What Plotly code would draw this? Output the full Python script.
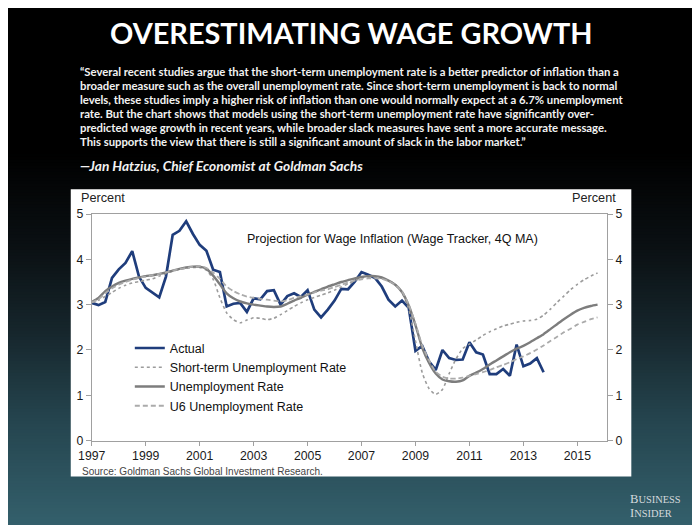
import plotly.graph_objects as go

# ---------------- data ----------------
quarters = [1997 + 0.25 * i for i in range(76)]  # 1997Q1 .. 2015Q4

actual = [3.04, 2.99, 3.06, 3.59,
          3.78, 3.92, 4.18, 3.62,
          3.37, 3.26, 3.16, 3.62,
          4.54, 4.63, 4.84, 4.56,
          4.32, 4.19, 3.77, 3.72,
          2.96, 3.02, 3.04, 2.84,
          3.14, 3.12, 3.30, 3.32,
          3.00, 3.19, 3.25, 3.17,
          3.32, 2.89, 2.72, 2.89,
          3.09, 3.35, 3.34, 3.51,
          3.72, 3.66, 3.59, 3.40,
          3.11, 2.96, 3.09, 2.93,
          1.98, 2.09, 1.75, 1.56,
          2.00, 1.82, 1.78, 1.79,
          2.17, 1.95, 1.90, 1.47,
          1.47, 1.58, 1.43, 2.12,
          1.64, 1.70, 1.82, 1.51]

short_term = [3.05, 3.10, 3.18, 3.27,
              3.36, 3.43, 3.48, 3.51,
              3.54, 3.57, 3.63, 3.69,
              3.74, 3.78, 3.81, 3.82,
              3.82, 3.76, 3.56, 3.15,
              2.82, 2.67, 2.60, 2.66,
              2.71, 2.70, 2.67, 2.70,
              2.78, 2.87, 2.96, 3.04,
              3.11, 3.16, 3.21, 3.26,
              3.32, 3.39, 3.46, 3.53,
              3.59, 3.60, 3.60, 3.58,
              3.53, 3.45, 3.27, 2.90,
              2.20, 1.50, 1.15, 1.02,
              1.13, 1.48, 1.80, 2.03,
              2.13, 2.22, 2.32, 2.40,
              2.47, 2.53, 2.57, 2.61,
              2.64, 2.65, 2.68, 2.77,
              2.90, 3.05, 3.19, 3.33,
              3.45, 3.55, 3.63, 3.70]

unemployment = [3.06, 3.15, 3.30, 3.40,
                3.48, 3.53, 3.57, 3.60,
                3.63, 3.65, 3.68, 3.71,
                3.75, 3.79, 3.82, 3.84,
                3.84, 3.79, 3.64, 3.45,
                3.25, 3.14, 3.07, 3.03,
                3.00, 2.98, 2.96, 2.95,
                2.96, 3.02, 3.09, 3.15,
                3.22, 3.28, 3.34, 3.40,
                3.45, 3.50, 3.54, 3.58,
                3.61, 3.63, 3.63, 3.60,
                3.53, 3.44, 3.28, 2.98,
                2.55, 2.05, 1.72, 1.48,
                1.35, 1.31, 1.30, 1.33,
                1.43, 1.50, 1.58, 1.68,
                1.77, 1.86, 1.95, 2.03,
                2.09, 2.17, 2.26, 2.35,
                2.46, 2.57, 2.68, 2.78,
                2.87, 2.93, 2.97, 3.00]

u6 = [3.05, 3.12, 3.25, 3.36,
      3.44, 3.50, 3.55, 3.59,
      3.62, 3.65, 3.68, 3.71,
      3.75, 3.78, 3.81, 3.84,
      3.85, 3.81, 3.71, 3.57,
      3.40, 3.30, 3.23, 3.18,
      3.15, 3.13, 3.11, 3.09,
      3.07, 3.10, 3.15, 3.19,
      3.22, 3.27, 3.31, 3.34,
      3.39, 3.44, 3.49, 3.53,
      3.56, 3.58, 3.58, 3.57,
      3.52, 3.44, 3.29, 3.00,
      2.58, 2.10, 1.78, 1.52,
      1.41, 1.37, 1.37, 1.39,
      1.43, 1.47, 1.51, 1.56,
      1.62, 1.67, 1.73, 1.80,
      1.86, 1.93, 2.01, 2.10,
      2.20, 2.29, 2.39, 2.47,
      2.56, 2.62, 2.68, 2.72]

x_ticks = [1997, 1999, 2001, 2003, 2005, 2007, 2009, 2011, 2013, 2015]
y_ticks = [0, 1, 2, 3, 4, 5]

quote_lines = [
    "\u201cSeveral recent studies argue that the short-term unemployment rate is a better predictor of inflation than a",
    "broader measure such as the overall unemployment rate. Since short-term unemployment is back to normal",
    "levels, these studies imply a higher risk of inflation than one would normally expect at a 6.7% unemployment",
    "rate. But the chart shows that models using the short-term unemployment rate have significantly over-",
    "predicted wage growth in recent years, while broader slack measures have sent a more accurate message.",
    "This supports the view that there is still a significant amount of slack in the labor market.\u201d",
]

# ---------------- geometry helpers (target picture pixels -> paper fraction) ----------------
FIG_W, FIG_H = 700, 530
OX, OY = 21.3, 13.8     # where the figure's corner lands in the photographed picture
KX, KY = 0.979, 0.973   # observed photo scale
KF = 0.976              # font scale


def px(x):
    return (x - OX) / KX / FIG_W


def py(y):
    return 1 - (y - OY) / KY / FIG_H


def fs(s):
    return s / KF


SANS = "Liberation Sans, Arial, sans-serif"
TITLE_FONT = "Lato, Open Sans, sans-serif"

fig = go.Figure()

fig.add_trace(go.Scatter(x=quarters[:len(actual)], y=actual, mode="lines", name="Actual",
                         line=dict(color="#1f3d7c", width=2.7)))
fig.add_trace(go.Scatter(x=quarters, y=short_term, mode="lines", name="Short-term Unemployment Rate",
                         line=dict(color="#9c9c9c", width=1.6, dash="dot", shape="spline", smoothing=0.6)))
fig.add_trace(go.Scatter(x=quarters, y=unemployment, mode="lines", name="Unemployment Rate",
                         line=dict(color="#7d7d7d", width=2.4, shape="spline", smoothing=0.6)))
fig.add_trace(go.Scatter(x=quarters, y=u6, mode="lines", name="U6 Unemployment Rate",
                         line=dict(color="#ababab", width=1.8, dash="5px,3px", shape="spline", smoothing=0.6)))
# invisible trace so the right-hand axis is drawn
fig.add_trace(go.Scatter(x=quarters[:len(actual)], y=actual, yaxis="y2", mode="lines",
                         line=dict(width=0, color="rgba(0,0,0,0)"), showlegend=False, hoverinfo="skip"))

# ---------------- background ----------------
shapes = []
stops = [(0, (0, 0, 0)), (150, (0, 0, 0)), (250, (11, 17, 20)), (330, (22, 38, 44)),
         (420, (37, 69, 79)), (525, (52, 96, 108))]


def col_at(y):
    for (y0, c0), (y1, c1) in zip(stops[:-1], stops[1:]):
        if y0 <= y <= y1:
            t = (y - y0) / (y1 - y0) if y1 > y0 else 0
            return tuple(int(round(a + (b - a) * t)) for a, b in zip(c0, c1))
    return stops[-1][1]


# black backdrop reaching past the figure edges
shapes.append(dict(type="rect", xref="paper", yref="paper", x0=-0.2, x1=1.2, y0=py(150), y1=1.2,
                   fillcolor="#000000", line=dict(width=0), layer="below"))
yb = 140
while yb < 525:
    c = col_at(yb + 1.5)
    bottom = py(yb + 3.6) if yb + 3 < 525 else -0.2
    shapes.append(dict(type="rect", xref="paper", yref="paper", x0=-0.2, x1=1.2,
                       y0=bottom, y1=py(yb),
                       fillcolor="rgb(%d,%d,%d)" % c, line=dict(width=0), layer="below"))
    yb += 3
# white chart panel
shapes.append(dict(type="rect", xref="paper", yref="paper", x0=px(70), x1=px(630),
                   y0=py(475), y1=py(188), fillcolor="#ffffff", line=dict(width=0), layer="below"))

# ---------------- annotations ----------------
ann = []
ann.append(dict(text="<b>OVERESTIMATING WAGE GROWTH</b>", x=px(350), y=py(31), xref="paper", yref="paper",
                showarrow=False, xanchor="center", yanchor="middle",
                font=dict(family=TITLE_FONT, size=fs(28.2), color="#ffffff")))
line_y = [70, 84, 98, 112, 126, 140]
for t, yy in zip(quote_lines, line_y):
    ann.append(dict(text="<b>" + t + "</b>", x=px(77), y=py(yy), xref="paper", yref="paper",
                    showarrow=False, xanchor="left", yanchor="middle",
                    font=dict(family=TITLE_FONT, size=fs(11.05), color="#f2f2f2")))
ann.append(dict(text="<b><i>\u2014Jan Hatzius, Chief Economist at Goldman Sachs</i></b>", x=px(77), y=py(164.5),
                xref="paper", yref="paper", showarrow=False, xanchor="left", yanchor="middle",
                font=dict(family=TITLE_FONT, size=fs(13.4), color="#f2f2f2")))
ann.append(dict(text="Projection for Wage Inflation (Wage Tracker, 4Q MA)", x=px(391), y=py(238),
                xref="paper", yref="paper", showarrow=False, xanchor="center", yanchor="middle",
                font=dict(family=SANS, size=fs(12.2), color="#111111")))
ann.append(dict(text="Percent", x=px(78), y=py(197), xref="paper", yref="paper", showarrow=False,
                xanchor="left", yanchor="middle", font=dict(family=SANS, size=fs(12.4), color="#222222")))
ann.append(dict(text="Percent", x=px(617), y=py(197), xref="paper", yref="paper", showarrow=False,
                xanchor="right", yanchor="middle", font=dict(family=SANS, size=fs(12.4), color="#222222")))
ann.append(dict(text="Source: Goldman Sachs Global Investment Research.", x=px(79), y=py(470),
                xref="paper", yref="paper", showarrow=False, xanchor="left", yanchor="middle",
                font=dict(family=SANS, size=fs(9.8), color="#444444")))
ann.append(dict(text="<span style='font-size:12.6px'>B</span>USINESS<br><span style='font-size:12.6px'>I</span>NSIDER",
                x=px(627), y=py(505), xref="paper", yref="paper", showarrow=False,
                xanchor="left", yanchor="middle", align="left",
                font=dict(family="Liberation Serif, serif", size=10.4, color="#d5dadd")))

axis_common = dict(showgrid=False, zeroline=False, showline=True, linecolor="#a0a0a0", linewidth=1,
                   ticks="outside", tickcolor="#a0a0a0",
                   tickfont=dict(family=SANS, size=fs(12), color="#1a1a1a"))

fig.update_layout(
    width=FIG_W, height=FIG_H,
    margin=dict(l=0, r=0, t=0, b=0),
    paper_bgcolor="#000000",
    plot_bgcolor="rgba(0,0,0,0)",
    shapes=shapes,
    annotations=ann,
    showlegend=True,
    legend=dict(x=px(129), y=py(332), xanchor="left", yanchor="top", bgcolor="rgba(0,0,0,0)",
                font=dict(family=SANS, size=fs(12.2), color="#111111"), tracegroupgap=0, itemwidth=30),
    xaxis=dict(domain=[px(91), px(605.7)], range=[1997, 2016.1], tickvals=x_ticks, ticklen=4,
               mirror=True, **axis_common),
    yaxis=dict(domain=[py(439.2), py(212.7)], range=[0, 5], tickvals=y_ticks, ticklen=5, **axis_common),
    yaxis2=dict(overlaying="y", side="right", anchor="x", range=[0, 5], tickvals=y_ticks, ticklen=5,
                **axis_common),
)

fig.write_html("out.html")
